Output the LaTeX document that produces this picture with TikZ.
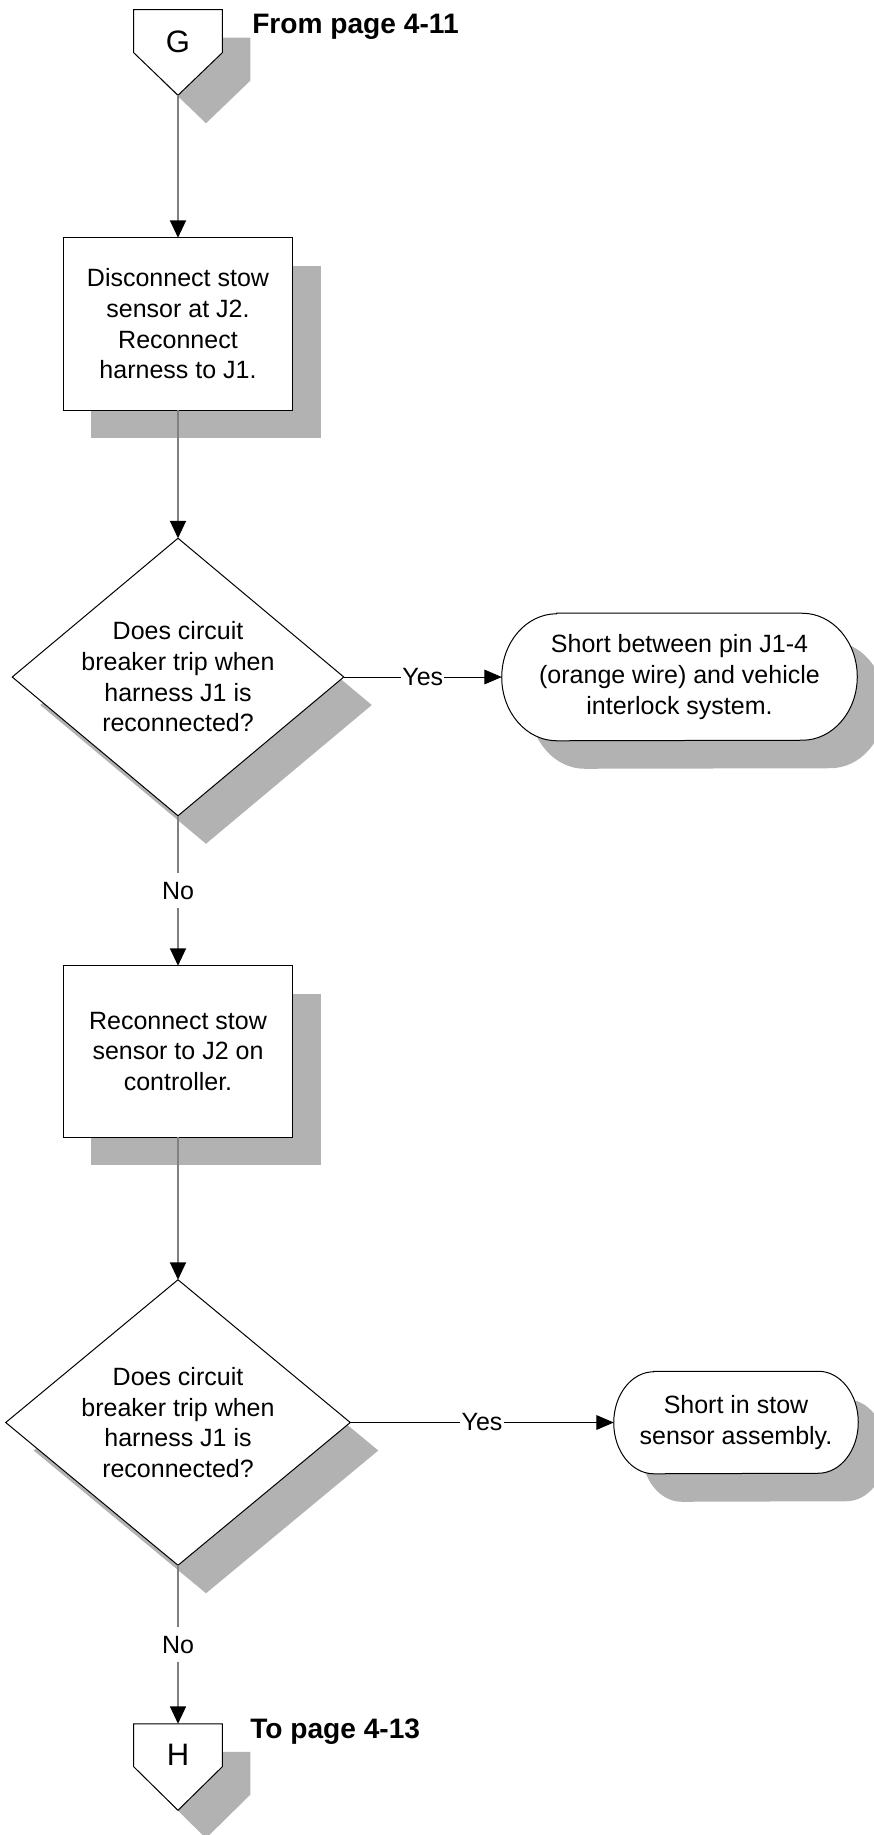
\documentclass[tikz,border=0pt]{standalone}
\usepackage{fontspec}
\setmainfont{Liberation Sans}
\usetikzlibrary{arrows.meta,calc}
\pgfdeclarelayer{shadowlayer}
\pgfdeclarelayer{shapelayer}
\pgfsetlayers{shadowlayer,shapelayer,main}
\definecolor{shadowgray}{RGB}{178,178,178}
\definecolor{linegray}{RGB}{128,128,128}

% outlines built from the anchors of a plain rectangular node
\newcommand\pentagonoutline[1]{(#1.north west) -- (#1.north east) -- ($(#1.north east)+(0,43)$) -- (#1.south) -- ($(#1.north west)+(0,43)$) -- cycle}
\newcommand\diamondoutline[1]{(#1.north) -- (#1.east) -- (#1.south) -- (#1.west) -- cycle}
\newcommand\boxoutline[1]{(#1.north west) rectangle (#1.south east)}
\newcommand\terminaloutline[3]{([xshift=#2]#1.north west) -- ([xshift=-#2]#1.north east)
  arc[start angle=90,end angle=-90,x radius=#2,y radius=#3]
  -- ([xshift=#2]#1.south west)
  arc[start angle=270,end angle=90,x radius=#2,y radius=#3] -- cycle}

\begin{document}
\begin{tikzpicture}[x=0.75pt,y=-0.75pt,
  txt/.style={font=\fontsize{18.75pt}{23pt}\selectfont, align=center},
  frame/.style={shape=rectangle, inner sep=0pt, txt},
  outline/.style={draw=black, line width=0.75pt, fill=white},
  shade/.style={fill=shadowgray, draw=none, transform canvas={shift={(21pt,-21pt)}}},
  flow/.style={draw=linegray, line width=1.1pt, -{Triangle[length=13pt,width=12pt,color=black]}},
  side/.style={draw=black, line width=0.75pt, -{Triangle[length=13pt,width=11pt,color=black]}},
  lbl/.style={fill=white, inner xsep=1pt, inner ysep=6.5pt, txt},
  letter/.style={font=\fontsize{23.25pt}{28pt}\selectfont, inner sep=0pt},
  offpage/.style={font=\fontsize{21.1pt}{24pt}\selectfont\bfseries, inner sep=0pt, anchor=base west}
]
\useasboundingbox (0,0) rectangle (874,1835);

% ---- nodes
\node[frame, minimum width=66pt, minimum height=63.75pt] (g) at (178,52.5) {};
\node[letter] (gtext) at (178,42) {G};
\node[offpage] (from) at (252,33) {From page 4-11};

\node[frame, minimum width=171.75pt, minimum height=129pt] (b1) at (178,324)
  {Disconnect stow\\sensor at J2.\\Reconnect\\harness to J1.};

\node[frame, minimum width=248.25pt, minimum height=207.75pt] (d1) at (178,677)
  {Does circuit\\breaker trip when\\harness J1 is\\reconnected?};

\node[frame, minimum width=266.25pt, minimum height=95.25pt] (t1) at (679.5,677)
  {Short between pin J1-4\\(orange wire) and vehicle\\interlock system.};

\node[frame, minimum width=171.75pt, minimum height=128.25pt] (b2) at (178,1051.5)
  {Reconnect stow\\sensor to J2 on\\controller.};

\node[frame, minimum width=258pt, minimum height=213.75pt] (d2) at (178,1422.5)
  {Does circuit\\breaker trip when\\harness J1 is\\reconnected?};

\node[frame, minimum width=183pt, minimum height=76.5pt] (t2) at (736,1422.5)
  {Short in stow\\sensor assembly.};

\node[frame, minimum width=66pt, minimum height=64.5pt] (h) at (178,1767) {};
\node[letter] (htext) at (178,1755) {H};
\node[offpage] (to) at (250,1738) {To page 4-13};

% ---- drop shadows
\begin{pgfonlayer}{shadowlayer}
  \clip (0,0) rectangle (874,1835);
  \fill[shade] \pentagonoutline{g};
  \fill[shade] \boxoutline{b1};
  \fill[shade] \diamondoutline{d1};
  \fill[shade] \terminaloutline{t1}{41.25pt}{47.625pt};
  \fill[shade] \boxoutline{b2};
  \fill[shade] \diamondoutline{d2};
  \fill[shade] \terminaloutline{t2}{30pt}{38.25pt};
  \fill[shade] \pentagonoutline{h};
\end{pgfonlayer}

% ---- shape outlines
\begin{pgfonlayer}{shapelayer}
  \path[outline] \pentagonoutline{g};
  \path[outline] \boxoutline{b1};
  \path[outline] \diamondoutline{d1};
  \path[outline] \terminaloutline{t1}{41.25pt}{47.625pt};
  \path[outline] \boxoutline{b2};
  \path[outline] \diamondoutline{d2};
  \path[outline] \terminaloutline{t2}{30pt}{38.25pt};
  \path[outline] \pentagonoutline{h};
\end{pgfonlayer}

% ---- connectors
\draw[flow] (g.south) -- (b1.north);
\draw[flow] (b1.south) -- (d1.north);
\draw[side] (d1.east) -- node[lbl] (yes1) {Yes} (t1.west);
\draw[flow] (d1.south) -- node[lbl] (no1) {No} (b2.north);
\draw[flow] (b2.south) -- (d2.north);
\draw[side] (d2.east) -- node[lbl] (yes2) {Yes} (t2.west);
\draw[flow] (d2.south) -- node[lbl] (no2) {No} (h.north);
\end{tikzpicture}
\end{document}
